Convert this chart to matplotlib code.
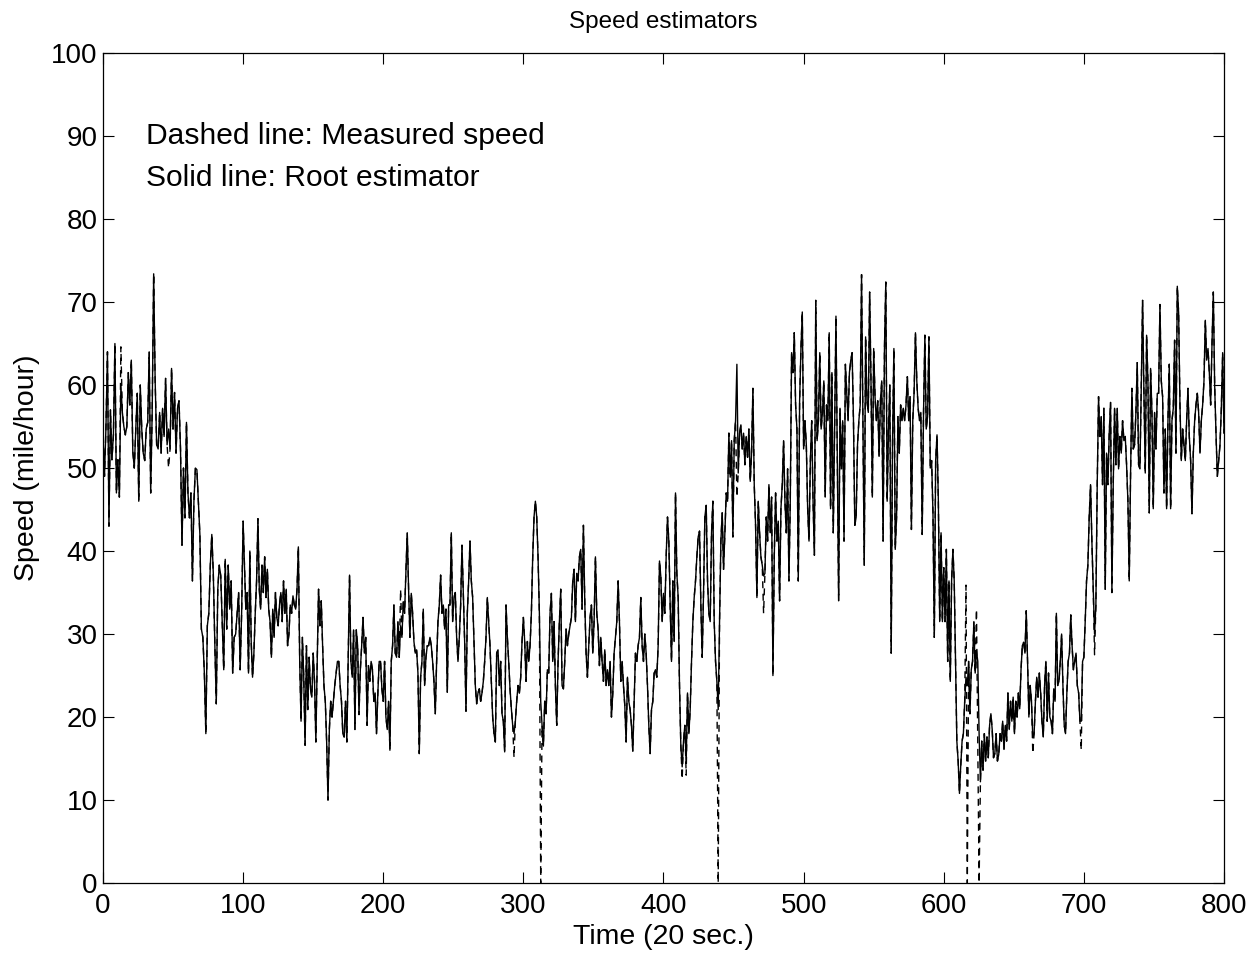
import numpy as np
import matplotlib.pyplot as plt

plt.rcParams['font.family'] = ['Liberation Sans', 'DejaVu Sans']

# root estimator (solid) in blocks of 100 time steps
est_0 = [54, 49, 55, 64, 43, 57, 51, 54, 65, 47, 51, 46.5, 60, 56.7, 55, 54, 55, 61.5, 57.6, 63,
         52, 50, 54.7, 59, 46, 60, 54.7, 51.8, 50.9, 54.7, 55.5, 64, 47, 56.7, 73.4, 60.5, 52.8, 52.3,
         56.7, 51.8, 57.2, 53.8, 60.8, 52.8, 54.7, 52.3, 62, 54.7, 59.1, 51.8, 57.2, 58.1, 52.3, 40.7,
         50, 44, 55.5, 47, 44, 47, 36.4, 46, 50, 49.8, 46, 42, 30.6, 29.6, 25.3, 18, 31, 32.5, 38.3,
         42, 37.3, 29, 21.6, 35.4, 38.3, 37, 31.5, 25.7, 39, 30.6, 38.3, 33, 36.4, 25.3, 29.6, 30,
         32.5, 35, 25.7, 32.5]
est_1 = [43.6, 38.3, 33, 35, 25.3, 40, 29.1, 24.8, 27.7, 32.5, 36.4, 43.9, 35.4, 33, 38.3, 35, 39.3,
         34.4, 37.8, 33, 31.5, 27.2, 33, 29.6, 35, 32, 31, 33.5, 35, 31.5, 36.4, 32.5, 35.4, 28.6, 30,
         33.5, 32.5, 34.6, 33.5, 33, 35.4, 40.5, 26.7, 19.5, 29.6, 24.8, 16.6, 28.6, 20.9, 27.2, 23.4,
         22.4, 27.7, 24.3, 17, 26.7, 35.4, 31, 34, 28.6, 23.8, 21.9, 17, 10, 18.5, 21.9, 20, 21.9, 23.8,
         25.3, 26.7, 26.7, 23.8, 21.9, 18, 17.6, 21.9, 17, 27.2, 37.1, 26.7, 24.8, 30.5, 18.5, 30.5,
         28.6, 20.3, 25.7, 28.6, 32, 27.7, 29.6, 19, 26.2, 24.3, 26.7, 25.7, 21.9, 22.9, 18, 22.9,
         26.7, 26.7, 23.4]
est_2 = [21.9, 26.7, 20, 18.5, 21.9, 16, 26.7, 28.6, 33.5, 27.7, 27.2, 31.5, 27.2, 31, 29.6, 33.9,
         32.5, 37.6, 42.2, 35.4, 29.6, 34.9, 32.5, 29.1, 27.7, 28.1, 25.3, 15.6, 24.8, 26.7, 33, 23.8,
         27.2, 28.6, 28.6, 29.6, 28.6, 26.7, 24.3, 20.4, 26.7, 31.5, 33.5, 37.1, 32.5, 33.5, 30.6, 33,
         23, 33.5, 33.5, 42.2, 31.5, 34.4, 35, 29.6, 26.7, 29.6, 33.5, 40.7, 35, 29.1, 20.7, 32.5, 36.4,
         41.2, 36.4, 34.4, 29.1, 23.8, 21.6, 22.9, 23.4, 21.9, 22.9, 24.3, 26.7, 29.6, 34.4, 31.5, 28.6,
         24.3, 20, 18, 17, 27.7, 28.1, 23.8, 26.7, 20.4, 19.5, 15.8, 33.5, 29.6, 26.7, 23.4, 21, 19, 18,
         19.5, 21.9, 23.8, 22.9, 24.8, 29.1]
est_3 = [32, 29.1, 24.3, 29.1, 26.7, 28.6, 32.5, 39.3, 44.1, 46, 44.1, 39.3, 32.5, 21.9, 19, 16.5,
         21.9, 20.4, 25.7, 25.3, 32.5, 34.9, 26.7, 31.5, 23.8, 19, 26.7, 31.5, 35.4, 23.8, 23.4, 26.7,
         30.6, 28.6, 30, 31, 32, 36.4, 37.8, 31.5, 37.3, 36.4, 39.3, 40.2, 33, 43.1, 34, 27.7, 24.8,
         28.6, 32, 33.5, 27.7, 31.5, 39.3, 32.5, 30.6, 26.2, 29.6, 26.7, 24.3, 28.1, 23.8, 25.7, 23.8,
         26.7, 20, 22.9, 27.7, 29.6, 31.5, 36.4, 31.5, 24.3, 26.7, 23.8, 21.4, 17, 24.8, 21.9, 20.9, 19,
         15.9, 21.9, 27.7, 26.7, 28.6, 29.6, 34.4, 28.6, 26.7, 30, 27.7, 23.8, 19, 15.6, 20.9, 21.9,
         25.3, 25.7, 24.8, 28.6, 38.8, 36.9, 31.5]
est_4 = [34.9, 32.5, 39.3, 44.1, 41.2, 33.5, 26.7, 36.4, 29.1, 47, 37.3, 34.4, 23.8, 16.5, 14, 17.1,
         19, 14.5, 22.9, 18, 20.9, 26.7, 31.5, 34.4, 36.4, 39.3, 41.7, 42.4, 33.5, 27.2, 34.9, 44.1,
         45.5, 36.4, 32.5, 31.5, 42.2, 46, 31.5, 26.7, 24.3, 20.9, 31.5, 41.2, 44.6, 37.8, 42.2, 47, 46,
         54.2, 48.9, 53.3, 41.7, 53.3, 55.7, 62.5, 49.4, 54.2, 55.2, 52.3, 54.2, 50.4, 53.8, 51.3, 54.7,
         48.4, 51.8, 59.6, 48, 43.1, 34.4, 46, 42.2, 39.3, 38.3, 37, 37.3, 44.1, 41.2, 48, 42.2, 46.5,
         25, 39.3, 47, 41.2, 43.6, 34, 45.1, 48, 53.3, 46, 42.2, 49.9, 36.4, 46, 63.9, 61.5, 66.3, 57.6,
         54.7, 36.4, 58.1, 64.4, 68.8]
est_5 = [52.3, 55.7, 52.8, 45.1, 41.2, 50.9, 55.7, 46, 39.5, 70.2, 53.3, 55.7, 63.9, 54.7, 56.7, 60.5,
         46.5, 57.6, 55.7, 66.3, 45.1, 61.5, 42.2, 54.7, 68.3, 50.9, 34, 57.2, 49.9, 55.7, 41.2, 62.5,
         59.1, 55.7, 61.5, 63, 63.9, 55.7, 43.1, 44.1, 52.8, 55.7, 57.6, 73.3, 55.7, 38.3, 65.8, 58.1,
         56.7, 71.2, 60.5, 46.5, 64.4, 58.6, 55.7, 58.1, 51.4, 58.1, 60.5, 41.2, 64.4, 72.4, 46, 54.7,
         60, 27.7, 53.3, 64.4, 40.2, 44.1, 56.2, 51.8, 57.6, 55.7, 57.2, 55.7, 57.6, 61, 55.7, 58.6,
         42.6, 55.7, 59.1, 66.3, 60.5, 57.2, 55.7, 56.7, 42, 56.7, 66, 54.7, 56.2, 65.8, 50, 50.9, 44.6,
         29.6, 50.9, 54, 46, 31.5, 42.2, 31.5]
est_6 = [38, 31.5, 40.2, 26.7, 36.4, 24.3, 36.4, 40.2, 36.4, 26.7, 17.1, 14.7, 10.8, 14.2, 17.1, 18,
         21.9, 24.8, 23.8, 26.7, 20.4, 25.7, 26.7, 31.5, 25.3, 28, 26.7, 18, 12.2, 17.1, 13.6, 18, 14.7,
         17.6, 15.1, 19, 20.4, 18.5, 15.1, 15.6, 18, 14.7, 15.5, 18, 17.1, 19.5, 16.1, 19, 17.1, 22.9,
         18.5, 21.9, 19.5, 22.4, 18, 21.9, 20, 22.9, 21, 25.7, 28.6, 29, 27.7, 32.8, 26.7, 20, 23.8,
         21.9, 17.5, 18, 21.9, 24.8, 22.4, 25.3, 22.9, 19.5, 17.6, 23.8, 26.7, 19.5, 25.3, 20, 19.5, 18,
         23.4, 21.9, 32.5, 23.8, 24.3, 26.7, 30, 23.8, 19, 18, 22.9, 26.7, 27.7, 32.3, 28.6, 25.7, 26.7,
         27.7, 23.8, 22.9, 19.5, 19.5, 26.7]
est_7 = [27.2, 31.5, 36.4, 38.3, 44.1, 48, 41.2, 35.4, 30, 33.5, 48, 58.6, 53.8, 56.2, 48, 57.2, 35.4,
         51.8, 48, 54.2, 57.9, 35, 48, 57.2, 50.4, 57.2, 49.9, 53.8, 51.8, 55.7, 53.3, 53.8, 50.4, 46,
         36.4, 49.4, 59.6, 52.3, 52.8, 56.7, 62.7, 50.4, 49.9, 59.6, 70.2, 59.1, 49.4, 66, 60.5, 44.6,
         62, 56.7, 45.1, 56.7, 52.3, 59, 59, 69.7, 60.5, 58.6, 47, 54.7, 45.1, 55.7, 62.5, 45.1, 55.7,
         57.2, 65.4, 51.8, 71.9, 68.7, 57.6, 50.9, 54.7, 52.8, 50.9, 55.7, 59.6, 53.8, 50.9, 44.5, 51.8,
         55.7, 57.6, 59, 56.7, 51.8, 55.7, 57.6, 60.5, 67.8, 63, 64.4, 61.5, 57.6, 64.9, 71.2, 60, 54.2,
         49, 50.9, 52.8, 57.2, 63.9, 54.2]

# measured speed (dashed), same sampling; it differs from the estimator only at a few spots
meas_0 = [54, 49, 55, 64, 43, 57, 51, 54, 65, 47, 51, 46.5, 64.6, 56.7, 55, 54, 55, 61.5, 57.6, 63,
          52, 50, 54.7, 59, 46, 60, 54.7, 51.8, 50.9, 54.7, 55.5, 64, 47, 56.7, 73.4, 60.5, 52.8, 52.3,
          56.7, 51.8, 57.2, 53.8, 60.8, 52.8, 50, 52.3, 62, 54.7, 59.1, 51.8, 57.2, 58.1, 52.3, 40.7,
          50, 44, 55.5, 47, 44, 47, 36.4, 46, 50, 49.8, 46, 42, 30.6, 29.6, 25.3, 18, 31, 32.5, 38.3,
          42, 37.3, 29, 21.6, 35.4, 38.3, 37, 31.5, 25.7, 39, 30.6, 38.3, 33, 36.4, 25.3, 29.6, 30,
          32.5, 35, 25.7, 32.5]
meas_1 = est_1[:]
meas_2 = [21.9, 26.7, 20, 18.5, 21.9, 16, 26.7, 28.6, 33.5, 27.7, 27.2, 31.5, 27.2, 35.4, 29.6, 33.9,
          32.5, 37.6, 42.2, 35.4, 29.6, 34.9, 32.5, 29.1, 27.7, 28.1, 25.3, 15.6, 24.8, 26.7, 33, 23.8,
          27.2, 28.6, 28.6, 29.6, 28.6, 26.7, 24.3, 20.4, 26.7, 31.5, 33.5, 37.1, 32.5, 33.5, 30.6, 33,
          23, 33.5, 33.5, 42.2, 31.5, 34.4, 35, 29.6, 26.7, 29.6, 33.5, 40.7, 35, 29.1, 20.7, 32.5, 36.4,
          41.2, 36.4, 34.4, 29.1, 23.8, 21.6, 22.9, 23.4, 21.9, 22.9, 24.3, 26.7, 29.6, 34.4, 31.5, 28.6,
          24.3, 20, 18, 17, 27.7, 28.1, 23.8, 26.7, 20.4, 19.5, 15.8, 33.5, 29.6, 26.7, 23.4, 21, 19,
          15.1, 19.5, 21.9, 23.8, 22.9, 24.8, 29.1]
meas_3 = [32, 29.1, 24.3, 29.1, 26.7, 28.6, 32.5, 39.3, 44.1, 46, 44.1, 39.3, 32.5, 0, 19, 16.5,
          21.9, 20.4, 25.7, 25.3, 32.5, 34.9, 26.7, 31.5, 23.8, 19, 26.7, 31.5, 35.4, 23.8, 23.4, 26.7,
          30.6, 28.6, 30, 31, 32, 36.4, 37.8, 31.5, 37.3, 36.4, 39.3, 40.2, 33, 43.1, 34, 27.7, 24.8,
          28.6, 32, 33.5, 27.7, 31.5, 39.3, 32.5, 30.6, 26.2, 29.6, 26.7, 24.3, 28.1, 23.8, 25.7, 23.8,
          26.7, 20, 22.9, 27.7, 29.6, 31.5, 36.4, 31.5, 24.3, 26.7, 23.8, 21.4, 17, 24.8, 21.9, 20.9, 19,
          15.9, 21.9, 27.7, 26.7, 28.6, 29.6, 34.4, 28.6, 26.7, 30, 27.7, 23.8, 19, 15.6, 20.9, 21.9,
          25.3, 25.7, 24.8, 28.6, 38.8, 36.9, 31.5]
meas_4 = [34.9, 32.5, 39.3, 44.1, 41.2, 33.5, 26.7, 36.4, 29.1, 47, 37.3, 34.4, 23.8, 16.5, 12.5, 17.1,
          19, 13, 22.9, 18, 20.9, 26.7, 31.5, 34.4, 36.4, 39.3, 41.7, 42.4, 33.5, 27.2, 34.9, 44.1,
          45.5, 36.4, 32.5, 31.5, 42.2, 46, 31.5, 26.7, 24.3, 0, 31.5, 41.2, 44.6, 37.8, 42.2, 47, 46,
          54.2, 48.9, 53.3, 41.7, 53.3, 55.7, 46.5, 49.4, 54.2, 55.2, 52.3, 54.2, 50.4, 53.8, 51.3, 54.7,
          48.4, 51.8, 59.6, 48, 43.1, 34.4, 46, 42.2, 39.3, 38.3, 32.5, 37.3, 44.1, 41.2, 48, 42.2, 46.5,
          25, 39.3, 47, 41.2, 43.6, 34, 45.1, 48, 53.3, 46, 42.2, 49.9, 36.4, 46, 63.9, 61.5, 66.3, 57.6,
          54.7, 36.4, 58.1, 64.4, 68.8]
meas_5 = est_5[:]
meas_6 = [38, 31.5, 40.2, 26.7, 36.4, 24.3, 36.4, 40.2, 36.4, 26.7, 17.1, 14.7, 10.8, 14.2, 17.1, 18,
          21.9, 35.9, 0, 26.7, 20.4, 25.7, 26.7, 31.5, 25.3, 33, 17, 0, 12.2, 17.1, 13.6, 18, 14.7,
          17.6, 15.1, 19, 20.4, 18.5, 15.1, 15.6, 18, 14.7, 15.5, 18, 17.1, 19.5, 16.1, 19, 17.1, 22.9,
          18.5, 21.9, 19.5, 22.4, 18, 21.9, 20, 22.9, 21, 25.7, 28.6, 29, 27.7, 32.8, 26.7, 20, 23.8,
          21.9, 15.6, 18, 21.9, 24.8, 22.4, 25.3, 22.9, 19.5, 17.6, 23.8, 26.7, 19.5, 25.3, 20, 19.5, 18,
          23.4, 21.9, 32.5, 23.8, 24.3, 26.7, 30, 23.8, 19, 18, 22.9, 26.7, 27.7, 32.3, 28.6, 25.7, 26.7,
          27.7, 23.8, 22.9, 19.5, 16, 26.7]
meas_7 = [27.2, 31.5, 36.4, 38.3, 44.1, 48, 41.2, 35.4, 27.5, 33.5, 48, 58.6, 53.8, 56.2, 48, 57.2, 35.4,
          51.8, 48, 54.2, 57.9, 35, 48, 57.2, 50.4, 57.2, 49.9, 53.8, 51.8, 55.7, 53.3, 53.8, 50.4, 46,
          36.4, 49.4, 59.6, 52.3, 52.8, 56.7, 62.7, 50.4, 49.9, 59.6, 70.2, 59.1, 49.4, 66, 60.5, 44.6,
          62, 56.7, 45.1, 56.7, 52.3, 59, 59, 69.7, 60.5, 58.6, 47, 54.7, 45.1, 55.7, 62.5, 45.1, 55.7,
          57.2, 65.4, 51.8, 71.9, 68.7, 57.6, 50.9, 54.7, 52.8, 50.9, 55.7, 59.6, 53.8, 50.9, 44.5, 51.8,
          55.7, 57.6, 59, 56.7, 51.8, 55.7, 57.6, 60.5, 67.8, 63, 64.4, 61.5, 57.6, 64.9, 71.2, 60, 54.2,
          49, 50.9, 52.8, 57.2, 63.9, 54.2]

est_blocks = [est_0, est_1, est_2, est_3, est_4, est_5, est_6, est_7]
meas_blocks = [meas_0, meas_1, meas_2, meas_3, meas_4, meas_5, meas_6, meas_7]


def block_times(blocks):
    ts = []
    for i, b in enumerate(blocks):
        last = i == len(blocks) - 1
        ts.append(np.linspace(100 * i, 100 * (i + 1), len(b), endpoint=last))
    return np.concatenate(ts)


t_est = block_times(est_blocks)
y_est = np.concatenate(est_blocks)
t_meas = block_times(meas_blocks)
y_meas = np.concatenate(meas_blocks)

fig = plt.figure(figsize=(12.59, 9.59), dpi=100)
ax = fig.add_axes([0.0818, 0.0792, 0.8904, 0.8655])

ax.plot(t_meas, y_meas, color="black", lw=1.0, ls=(0, (5, 4)), zorder=1)
ax.plot(t_est, y_est, color="black", lw=1.0, zorder=2)

ax.set_xlim(0, 800)
ax.set_ylim(0, 100)
ax.set_xticks(np.arange(0, 801, 100))
ax.set_yticks(np.arange(0, 101, 10))
ax.tick_params(direction="in", top=True, right=True, length=8, width=0.8,
               labelsize=20)
ax.tick_params(axis="x", pad=7)
ax.tick_params(axis="y", pad=4)
for s in ax.spines.values():
    s.set_linewidth(0.9)

ax.set_title("Speed estimators", fontsize=17.5, pad=18)
ax.set_xlabel("Time (20 sec.)", fontsize=20.5, labelpad=4)
ax.set_ylabel("Speed (mile/hour)", fontsize=20.5, labelpad=8)

ax.text(31, 90, "Dashed line: Measured speed", fontsize=21.6, va="center")
ax.text(31, 85, "Solid line: Root estimator", fontsize=21.6, va="center")

fig.savefig("out.png", dpi=100)
